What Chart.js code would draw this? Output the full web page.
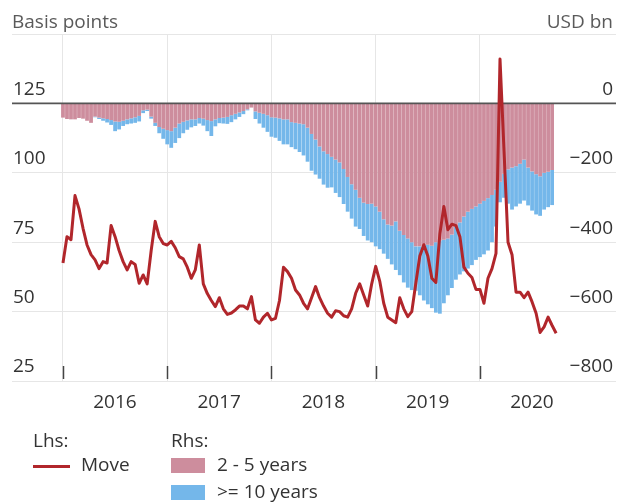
<!DOCTYPE html>
<html><head><meta charset="utf-8">
<script src="https://cdn.jsdelivr.net/npm/chart.js@4.4.1/dist/chart.umd.min.js"></script>
<style>
html,body{margin:0;padding:0;background:#fff;}
#wrap{position:relative;width:617px;height:502px;font-family:"Open Sans",sans-serif;color:#333;overflow:hidden;}
#c{position:absolute;left:0;top:0;}
.t{position:absolute;font-size:19px;line-height:19px;white-space:nowrap;}
.box{position:absolute;width:34px;height:15px;}
</style></head><body>
<div id="wrap">
<canvas id="c" width="617" height="502" style="width:617px;height:502px"></canvas>
<div class="t" style="left:12px;top:12px;color:#5a5a5a">Basis points</div>
<div class="t" style="right:4px;top:12px;color:#5a5a5a">USD bn</div>
<div class="t" style="left:33px;top:431px">Lhs:</div>
<div style="position:absolute;left:33px;top:465px;width:37px;height:3px;background:#b1262b"></div>
<div class="t" style="left:81px;top:455px">Move</div>
<div class="t" style="left:171px;top:431px">Rhs:</div>
<div class="box" style="left:171px;top:458px;background:#cd8d9d"></div>
<div class="t" style="left:217px;top:455px">2 - 5 years</div>
<div class="box" style="left:171px;top:485px;background:#74b7ea"></div>
<div class="t" style="left:217px;top:482px">&gt;= 10 years</div>
</div>
<script>
const yearLabels = ['2016','2017','2018','2019','2020'];
const leftTicks = [25, 50, 75, 100, 125];
const rightTicks = [-800, -600, -400, -200, 0];
const firstPeriod = 2016;
const periodsPerYear = 26;

// Lhs: MOVE index (basis points)
const move = [67.5,77,75.9,91.8,87,80,74,70.5,68.6,65.5,
 68,67.5,81,77,72,68,65,68,67,60.2,
 63.2,60,72,82.5,77,74.5,74,75.3,73,69.8,
 69,66,62,65,74,60,56.5,54,51.8,55,
 51,49,49.5,50.6,52,52,51,55.4,47,45.8,
 48,49.4,47,47.6,54,66,64.4,62,57.8,56,
 53,51,55,59,55,52,49.4,48,50.3,50,
 48.5,48,51,56.6,60,56,52,60,66.3,61,
 53,48,47,46,55,51,48.2,50,60.2,70,
 74.1,70,62,60.5,78,87.9,79.5,81.5,81,77,
 66,63.8,62.3,58,58,53,62,65.5,71,141,
 108,75,70.5,57,57,55,57,53.5,49.4,42.5,
 44.5,48,45,42.2];

// Rhs: 2 - 5 years (USD bn)
const shortTerm = [-41,-45,-46,-46,-42,-44,-50,-56,-38,-41,
 -43,-45,-48,-52,-53,-50,-46,-43,-40,-36,
 -20,-18,-38,-56,-68,-73,-77,-80,-70,-58,
 -53,-49,-46,-46,-42,-44,-48,-51,-46,-42,
 -41,-39,-34,-30,-26,-22,-17,-12,-23,-27,
 -30,-34,-40,-41,-43,-46,-46,-54,-56,-58,
 -60,-70,-88,-104,-124,-138,-146,-154,-162,-170,
 -189,-212,-233,-249,-272,-286,-290,-289,-297,-312,
 -334,-349,-352,-340,-367,-379,-389,-400,-412,-412,
 -408,-407,-410,-400,-395,-393,-389,-378,-355,-343,
 -326,-312,-304,-297,-289,-281,-273,-264,-249,-226,
 -203,-190,-185,-181,-174,-162,-185,-196,-204,-210,
 -200,-197,-192];

// Rhs: >= 10 years (USD bn)
const longTerm = [0,0,0,0,0,0,0,0,-2,-4,
 -7,-10,-14,-28,-22,-15,-14,-15,-16,-16,
 -8,-4,-6,-9,-18,-29,-41,-48,-44,-42,
 -33,-27,-23,-19,-16,-20,-32,-43,-20,-15,
 -17,-20,-20,-16,-13,-9,-3,0,-22,-31,
 -40,-48,-56,-58,-65,-72,-72,-72,-76,-82,
 -90,-98,-106,-101,-93,-96,-97,-88,-96,-100,
 -101,-100,-99,-106,-90,-96,-105,-111,-115,-108,
 -99,-99,-112,-140,-128,-137,-142,-138,-128,-141,
 -160,-172,-180,-203,-211,-183,-164,-154,-153,-150,
 -158,-164,-162,-154,-154,-154,-151,-136,-106,-59,
 -69,-99,-121,-116,-115,-118,-109,-113,-116,-114,
 -106,-102,-101];

const periods = move.map((_, i) => firstPeriod + i / periodsPerYear);
const pts = arr => arr.map((v, i) => ({x: periods[i], y: v}));

const FONT = {family: "'Open Sans', sans-serif", size: 19};

const zeroLine = {
  id: 'zeroLine',
  beforeDatasetDraw(chart, args) {
    if (args.index !== 0) return;
    const {ctx, chartArea: {left, right}} = chart;
    const y = chart.scales.y2.getPixelForValue(0);
    ctx.save();
    ctx.strokeStyle = '#555';
    ctx.lineWidth = 1.6;
    ctx.beginPath(); ctx.moveTo(left, y); ctx.lineTo(right, y); ctx.stroke();
    ctx.restore();
  }
};
const yearMarks = {
  id: 'yearMarks',
  afterDatasetsDraw(chart) {
    const {ctx, chartArea: {bottom}} = chart;
    const xs = chart.scales.x;
    ctx.save();
    ctx.strokeStyle = '#444';
    ctx.lineWidth = 1.5;
    yearLabels.forEach(y => {
      const px = Math.round(xs.getPixelForValue(+y)) + 0.5;
      ctx.beginPath(); ctx.moveTo(px, bottom - 15); ctx.lineTo(px, bottom - 2); ctx.stroke();
    });
    ctx.restore();
  }
};

new Chart(document.getElementById('c'), {
  type: 'bar',
  data: {
    datasets: [
      {type: 'line', label: 'Move', data: pts(move), yAxisID: 'y1', borderColor: '#b1262b',
       borderWidth: 3, pointRadius: 0, tension: 0, fill: false, order: 0, borderJoinStyle: 'round'},
      {type: 'bar', label: '2 - 5 years', data: pts(shortTerm), yAxisID: 'y2', stack: 's',
       backgroundColor: '#cd8d9d', borderWidth: 0, barPercentage: 0.94, categoryPercentage: 1, order: 1},
      {type: 'bar', label: '>= 10 years', data: pts(longTerm), yAxisID: 'y2', stack: 's',
       backgroundColor: '#74b7ea', borderWidth: 0, barPercentage: 0.94, categoryPercentage: 1, order: 2}
    ]
  },
  options: {
    responsive: false, animation: false, events: [],
    layout: {padding: {left: 12, right: 1, top: 34, bottom: 81}},
    plugins: {legend: {display: false}, tooltip: {enabled: false}},
    scales: {
      x: {
        type: 'linear', min: 2015.511, max: 2021.305, offset: false,
        grid: {offset: false, color: '#e6e6e6', drawTicks: false},
        border: {display: false},
        afterBuildTicks: s => { s.ticks = yearLabels.map(v => ({value: +v})); },
        ticks: {callback: v => String(v), labelOffset: 52, padding: 10, font: FONT, color: '#333',
                maxRotation: 0, autoSkip: false},
        afterFit: s => { s.height = 40; s.paddingLeft = 0; s.paddingRight = 0; }
      },
      y1: {
        type: 'linear', position: 'left', min: 25, max: 150,
        grid: {color: '#e6e6e6', drawTicks: false},
        border: {display: false},
        ticks: {stepSize: 25, mirror: true, padding: 1, labelOffset: -14, font: FONT, color: '#333',
                callback: v => leftTicks.includes(v) ? String(v) : ''},
        afterFit: s => { s.width = 0; s.paddingTop = 0; s.paddingBottom = 0; }
      },
      y2: {
        type: 'linear', position: 'right', min: -800, max: 200, stacked: true,
        grid: {display: false, drawTicks: false},
        border: {display: false},
        ticks: {stepSize: 200, mirror: true, padding: -3, labelOffset: -14, font: FONT, color: '#333',
                callback: v => rightTicks.includes(v) ? (v < 0 ? '\u2212' + Math.abs(v) : String(v)) : ''},
        afterFit: s => { s.width = 0; s.paddingTop = 0; s.paddingBottom = 0; }
      }
    }
  },
  plugins: [zeroLine, yearMarks]
});
</script>
</body></html>
